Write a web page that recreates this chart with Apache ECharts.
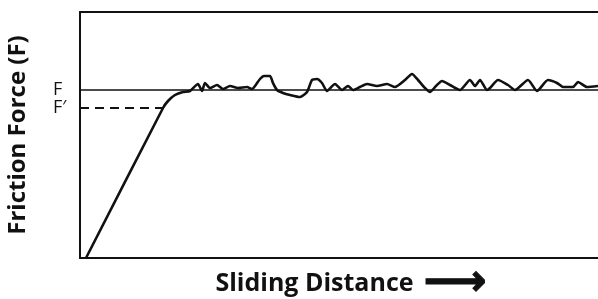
<!DOCTYPE html>
<html>
<head>
    <meta charset="utf-8">
    <title>Friction force vs sliding distance</title>
    <script src="https://cdn.jsdelivr.net/npm/echarts@6/dist/echarts.min.js"></script>
    <style>
        html, body { margin: 0; padding: 0; background: #fff; }
        #main { width: 598px; height: 299px; }
    </style>
</head>
<body>
<div id="main"></div>
<script type="text/javascript">
    // 曲线数据：滑动距离 / 摩擦力
    var distance = [6, 83, 88, 95, 103, 110, 118, 122, 125, 130, 137, 143, 150, 158, 167, 172, 175, 180, 184, 190,
        193, 197, 203, 210, 220, 227, 232, 237, 242, 247, 255, 262, 268, 273, 280, 287, 297, 307, 315, 325,
        332, 338, 344, 350, 356, 362, 370, 380, 390, 395, 400, 407, 410, 418, 428, 435, 448, 457, 468, 477,
        483, 493, 498, 507, 518];
    var force = [0, 150, 157, 163, 166, 167, 174, 167, 175, 170, 173, 169, 172, 170, 171, 169, 172, 179, 182, 182,
        175, 168, 165, 163, 161, 166, 178, 179, 175, 167, 174, 168, 172, 168, 171, 174, 172, 174, 171, 178,
        184, 178, 171, 166, 172, 177, 173, 168, 178, 172, 178, 168, 170, 178, 173, 168, 178, 167, 178, 175,
        171, 171, 176, 171, 172];
    // 参考线
    var levelF = 168;       // F
    var levelF2 = 150;      // F'
    var dashEnd = 83;       // F' 虚线终点
    var yTicks = [levelF2, levelF];
    var yTickNames = ['F\u2032', 'F'];

    var curve = [];
    for (var i = 0; i < distance.length; i++) {
        curve.push([distance[i], force[i]]);
    }

    var myChart = echarts.init(document.getElementById('main'));
    var option = {
        animation: false,
        grid: { left: 80, right: 0, top: 12, bottom: 41, outerBoundsMode: 'none' },
        xAxis: [{
            type: 'value',
            min: 0,
            max: 518,
            name: '{t|Sliding Distance}{a|\u27f6}',
            nameLocation: 'middle',
            nameGap: 13,
            nameTextStyle: {
                padding: [0, 0, 0, 24],
                rich: {
                    t: { fontFamily: 'Open Sans', fontWeight: 'bold', fontSize: 25, lineHeight: 26, color: '#111' },
                    a: {
                        fontFamily: 'DejaVu Sans', fontWeight: 'bold', fontSize: 44, lineHeight: 26, color: '#111',
                        textBorderColor: '#111', textBorderWidth: 1, padding: [0, 0, 0, 10]
                    }
                }
            },
            axisLine: { show: true, onZero: false, lineStyle: { color: '#111', width: 2 } },
            axisTick: { show: false },
            axisLabel: { show: false },
            splitLine: { show: false }
        }, {
            type: 'value',
            position: 'top',
            min: 0,
            max: 518,
            axisLine: { show: true, onZero: false, lineStyle: { color: '#111', width: 2 } },
            axisTick: { show: false },
            axisLabel: { show: false },
            splitLine: { show: false }
        }],
        yAxis: {
            type: 'value',
            min: 0,
            max: 246,
            name: 'Friction Force (F)',
            nameLocation: 'middle',
            nameGap: 50,
            nameTextStyle: { fontFamily: 'Open Sans', fontWeight: 'bold', fontSize: 24, color: '#111' },
            axisLine: { show: true, onZero: false, lineStyle: { color: '#111', width: 2 } },
            axisTick: { show: false },
            splitLine: { show: false },
            axisLabel: {
                customValues: yTicks,
                margin: 27,
                align: 'left',
                fontFamily: 'Open Sans',
                fontSize: 18,
                color: '#111',
                formatter: function (v) {
                    var k = yTicks.indexOf(v);
                    return k >= 0 ? yTickNames[k] : '';
                }
            }
        },
        series: [{
            type: 'line',
            data: curve,
            smooth: 0.2,
            symbol: 'none',
            lineStyle: { color: '#111', width: 2.6 },
            markLine: {
                silent: true,
                symbol: 'none',
                label: { show: false },
                data: [
                    [{ coord: [0, levelF], lineStyle: { type: 'solid', width: 1.5, color: '#111' } }, { coord: [518, levelF] }],
                    [{ coord: [0, levelF2], lineStyle: { type: [9, 6], width: 2, color: '#111' } }, { coord: [dashEnd, levelF2] }]
                ]
            }
        }]
    };
    myChart.setOption(option);
</script>
</body>
</html>
